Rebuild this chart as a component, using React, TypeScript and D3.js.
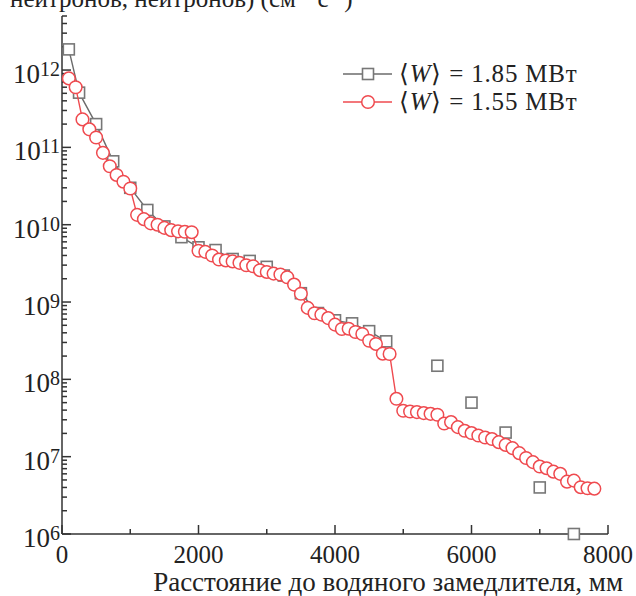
import React, { useEffect, useRef } from "react";
import * as d3 from "d3";

// <W> = 1.55 MW, red circles (every 100 mm)
const redX = [
  100, 200, 300, 400, 500, 600, 700, 800, 900, 1000,
  1100, 1200, 1300, 1400, 1500, 1600, 1700, 1800, 1900, 2000,
  2100, 2200, 2300, 2400, 2500, 2600, 2700, 2800, 2900, 3000,
  3100, 3200, 3300, 3400, 3500, 3600, 3700, 3800, 3900, 4000,
  4100, 4200, 4300, 4400, 4500, 4600, 4700, 4800, 4900, 5000,
  5100, 5200, 5300, 5400, 5500, 5600, 5700, 5800, 5900, 6000,
  6100, 6200, 6300, 6400, 6500, 6600, 6700, 6800, 6900, 7000,
  7100, 7200, 7300, 7400, 7500, 7600, 7700, 7800,
];
const redY = [
  7.8e11, 6.0e11, 2.3e11, 1.71e11, 1.34e11, 8.5e10, 5.7e10, 4.4e10, 3.6e10, 2.94e10,
  1.34e10, 1.18e10, 1.04e10, 1.0e10, 9.1e9, 8.5e9, 8.2e9, 8.1e9, 8.0e9, 4.6e9,
  4.45e9, 4.0e9, 3.54e9, 3.45e9, 3.35e9, 3.21e9, 2.99e9, 2.9e9, 2.58e9, 2.45e9,
  2.33e9, 2.27e9, 2.09e9, 1.68e9, 1.28e9, 8.4e8, 7.15e8, 6.87e8, 6.2e8, 5.1e8,
  4.48e8, 4.52e8, 4.1e8, 3.86e8, 3.16e8, 2.87e8, 2.15e8, 2.13e8, 5.6e7, 3.92e7,
  3.84e7, 3.77e7, 3.66e7, 3.58e7, 3.48e7, 2.68e7, 2.8e7, 2.41e7, 2.16e7, 2.02e7,
  1.88e7, 1.77e7, 1.69e7, 1.54e7, 1.42e7, 1.29e7, 1.11e7, 9.6e6, 8.5e6, 7.45e6,
  7.1e6, 6.4e6, 6.0e6, 4.75e6, 4.9e6, 4.03e6, 3.91e6, 3.86e6,
];

// <W> = 1.85 MW, grey squares joined by a line
const greyX = [
  100, 250, 500, 750, 1000, 1250, 1500, 1750, 2000, 2250,
  2500, 2750, 3000, 3250, 3500, 3750, 4000, 4250, 4500, 4750,
];
const greyY = [
  1.85e12, 5.1e11, 2.0e11, 6.6e10, 3.0e10, 1.55e10, 9.5e9, 6.9e9, 5.1e9, 4.7e9,
  3.6e9, 3.4e9, 2.85e9, 2.2e9, 1.3e9, 7.2e8, 5.8e8, 5.3e8, 4.2e8, 3.1e8,
];
// grey squares without a line
const greyLooseX = [5500, 6000, 6500, 7000, 7500];
const greyLooseY = [1.5e8, 5e7, 2.05e7, 4e6, 1e6];

const xTicks = [0, 2000, 4000, 6000, 8000];
const xMinorTicks = [1000, 3000, 5000, 7000];
const yExponents = [6, 7, 8, 9, 10, 11, 12];
const legendLabels = ["1.85 МВт", "1.55 МВт"];

const FONT = '"Liberation Serif", "Times New Roman", Times, serif';
const RED = "#ef4a4f";
const GREY = "#6b6b6b";

const App = () => {
  const svgRef = useRef<SVGSVGElement>(null);

  useEffect(() => {
    const width = 636;
    const height = 596;
    const left = 62;
    const right = 608;
    const top = 16;
    const bottom = 534;

    const svg = d3.select(svgRef.current);
    svg.selectAll("*").remove();
    svg.attr("width", width).attr("height", height).style("font-family", FONT);

    const x = d3.scaleLinear().domain([0, 8000]).range([left, right]);
    const y = d3.scaleLog().domain([1e6, 5e12]).range([bottom, top]);

    // axis title, cut off at the top edge as in the source figure
    svg
      .append("text")
      .attr("x", 10)
      .attr("y", 7)
      .attr("font-size", 25)
      .attr("fill", "#222")
      .text("нейтронов, нейтронов) (см⁻² с⁻¹)");

    const axisG = svg.append("g").attr("stroke", "#333").attr("stroke-width", 1.5);

    axisG
      .append("line")
      .attr("x1", left)
      .attr("x2", left)
      .attr("y1", top)
      .attr("y2", bottom);
    axisG
      .append("line")
      .attr("x1", left)
      .attr("x2", right)
      .attr("y1", bottom)
      .attr("y2", bottom);

    // y ticks (inward)
    const minor: number[] = [];
    yExponents.forEach((e) => {
      for (let m = 2; m <= 9; m++) {
        const v = m * Math.pow(10, e);
        if (v <= 5e12) minor.push(v);
      }
    });
    axisG
      .selectAll(".ymin")
      .data(minor)
      .join("line")
      .attr("x1", left)
      .attr("x2", left + 5)
      .attr("y1", (d) => y(d))
      .attr("y2", (d) => y(d));
    axisG
      .selectAll(".ymaj")
      .data(yExponents)
      .join("line")
      .attr("x1", left)
      .attr("x2", left + 9)
      .attr("y1", (d) => y(Math.pow(10, d)))
      .attr("y2", (d) => y(Math.pow(10, d)));

    // x ticks (inward)
    axisG
      .selectAll(".xmaj")
      .data(xTicks)
      .join("line")
      .attr("x1", (d) => x(d))
      .attr("x2", (d) => x(d))
      .attr("y1", bottom)
      .attr("y2", bottom - 9);
    axisG
      .selectAll(".xmin")
      .data(xMinorTicks)
      .join("line")
      .attr("x1", (d) => x(d))
      .attr("x2", (d) => x(d))
      .attr("y1", bottom)
      .attr("y2", bottom - 5);

    // y tick labels
    const yLab = svg
      .append("g")
      .selectAll("text")
      .data(yExponents)
      .join("text")
      .attr("x", 60)
      .attr("y", (d) => y(Math.pow(10, d)) + 13)
      .attr("text-anchor", "end")
      .attr("fill", "#222");
    yLab.append("tspan").attr("font-size", 27).text("10");
    yLab
      .append("tspan")
      .attr("font-size", 20)
      .attr("dy", -7)
      .text((d) => String(d));

    // x tick labels
    svg
      .append("g")
      .selectAll("text")
      .data(xTicks)
      .join("text")
      .attr("x", (d) => x(d))
      .attr("y", 563)
      .attr("text-anchor", "middle")
      .attr("font-size", 25)
      .attr("fill", "#222")
      .text((d) => String(d));

    svg
      .append("text")
      .attr("x", 623)
      .attr("y", 591)
      .attr("text-anchor", "end")
      .attr("font-size", 27)
      .attr("fill", "#222")
      .text("Расстояние до водяного замедлителя, мм");

    const xyLine = d3
      .line<[number, number]>()
      .x((d) => x(d[0]))
      .y((d) => y(d[1]));

    // grey series
    const greyPts: [number, number][] = greyX.map((v, i) => [v, greyY[i]]);
    const loosePts: [number, number][] = greyLooseX.map((v, i) => [v, greyLooseY[i]]);
    svg
      .append("path")
      .attr("d", xyLine(greyPts))
      .attr("fill", "none")
      .attr("stroke", GREY)
      .attr("stroke-width", 1.4);
    const sq = 11;
    svg
      .append("g")
      .selectAll("rect")
      .data(greyPts.concat(loosePts))
      .join("rect")
      .attr("x", (d) => x(d[0]) - sq / 2)
      .attr("y", (d) => y(d[1]) - sq / 2)
      .attr("width", sq)
      .attr("height", sq)
      .attr("fill", "#fff")
      .attr("stroke", "#777")
      .attr("stroke-width", 1.6);

    // red series
    const redPts: [number, number][] = redX.map((v, i) => [v, redY[i]]);
    svg
      .append("path")
      .attr("d", xyLine(redPts))
      .attr("fill", "none")
      .attr("stroke", RED)
      .attr("stroke-width", 1.4);
    svg
      .append("g")
      .selectAll("circle")
      .data(redPts)
      .join("circle")
      .attr("cx", (d) => x(d[0]))
      .attr("cy", (d) => y(d[1]))
      .attr("r", 6.3)
      .attr("fill", "#fff")
      .attr("stroke", RED)
      .attr("stroke-width", 1.5);

    // legend
    const legendRows = [74, 102];
    legendRows.forEach((ly, i) => {
      const g = svg.append("g");
      const color = i === 0 ? GREY : RED;
      g.append("line")
        .attr("x1", 343)
        .attr("x2", 392)
        .attr("y1", ly)
        .attr("y2", ly)
        .attr("stroke", color)
        .attr("stroke-width", 1.4);
      if (i === 0) {
        g.append("rect")
          .attr("x", 368 - sq / 2)
          .attr("y", ly - sq / 2)
          .attr("width", sq)
          .attr("height", sq)
          .attr("fill", "#fff")
          .attr("stroke", "#777")
          .attr("stroke-width", 1.6);
      } else {
        g.append("circle")
          .attr("cx", 368)
          .attr("cy", ly)
          .attr("r", 6.3)
          .attr("fill", "#fff")
          .attr("stroke", RED)
          .attr("stroke-width", 1.5);
      }
      const t = g
        .append("text")
        .attr("x", 399)
        .attr("y", ly + 8)
        .attr("font-size", 25)
        .attr("letter-spacing", 0.8)
        .attr("fill", "#222");
      t.append("tspan").text("⟨");
      t.append("tspan").attr("font-style", "italic").text("W");
      t.append("tspan").text("⟩ = " + legendLabels[i]);
    });
  }, []);

  return (
    <svg
      ref={svgRef}
      style={{ position: "absolute", left: 0, top: 0, background: "#fff" }}
    ></svg>
  );
};

export default App;
